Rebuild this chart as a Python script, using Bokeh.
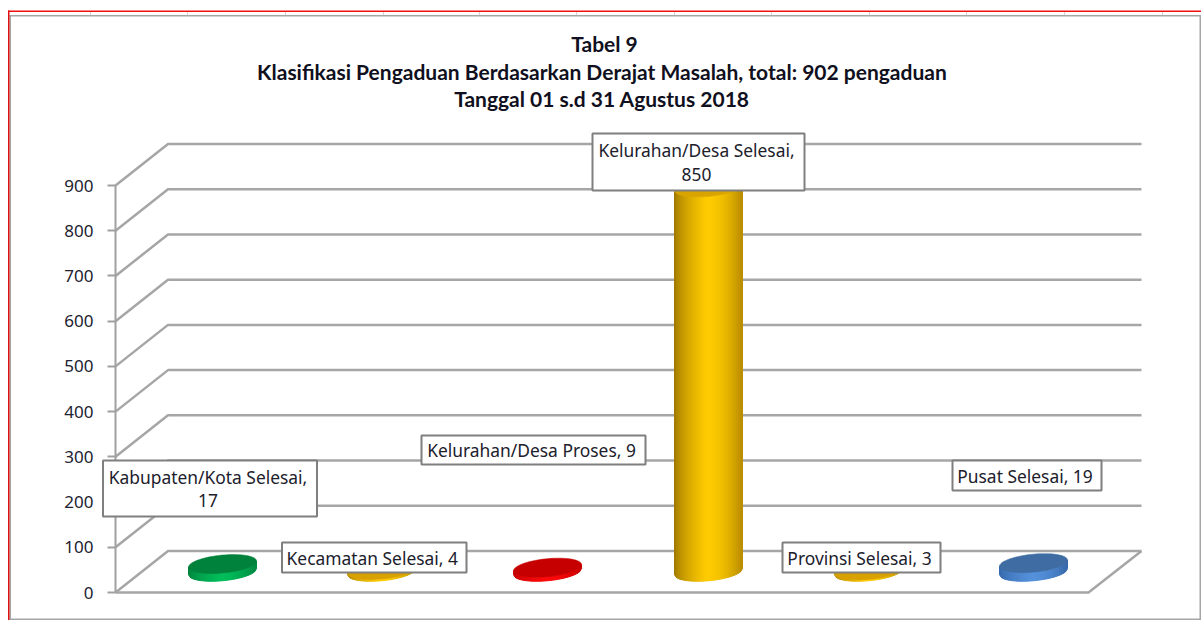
from bokeh.plotting import figure
from bokeh.models import Range1d, FixedTicker, BoxAnnotation, Label, LinearAxis
from bokeh.embed import file_html
from bokeh.resources import INLINE
import numpy as np

categories = ["Kabupaten/Kota Selesai", "Kecamatan Selesai", "Kelurahan/Desa Proses",
              "Kelurahan/Desa Selesai", "Provinsi Selesai", "Pusat Selesai"]
values = [17, 4, 9, 850, 3, 19]
ticks = [0, 100, 200, 300, 400, 500, 600, 700, 800, 900]
title_lines = ["Tabel 9",
               "Klasifikasi Pengaduan Berdasarkan Derajat Masalah, total: 902  pengaduan",
               "Tanggal  01 s.d 31 Agustus 2018"]

# Side shades (edge, centre, edge) and top colour for each column
side_colors = [((0, 125, 60), (0, 190, 90), (0, 135, 65)),
               ((170, 125, 0), (255, 204, 0), (190, 145, 0)),
               ((190, 0, 0), (255, 10, 10), (200, 0, 0)),
               ((150, 112, 0), (255, 204, 0), (185, 140, 0)),
               ((170, 125, 0), (255, 204, 0), (190, 145, 0)),
               ((50, 100, 165), (85, 145, 220), (55, 105, 170))]
top_colors = ["#00813c", "#d8a000", "#c60000", "#d9a300", "#d8a000", "#3f6da3"]

# Layout, in page pixels
W, H = 1201, 620
PX = (592 - 185) / 900
def val(py):
    return (592 - py) / PX

X0 = 115
DX, DY = 52.5, 41.5 / PX
centers = [222, 381, 547, 708, 868, 1033]

p = figure(width=W, height=H, output_backend="svg", toolbar_location=None,
           x_range=Range1d(0, W), y_range=Range1d(val(H), val(0)),
           min_border_left=0, min_border_right=0, min_border_top=0, min_border_bottom=0,
           x_axis_location=None, y_axis_location=None,
           outline_line_color=None, background_fill_color="white")
p.xgrid.visible = False
p.ygrid.visible = False

ax = LinearAxis(fixed_location=X0)
ax.ticker = FixedTicker(ticks=ticks)
ax.bounds = (0, 900)
ax.axis_line_color = "#a0a0a0"
ax.axis_line_width = 2
ax.major_tick_line_color = "#a0a0a0"
ax.major_tick_line_width = 2
ax.major_tick_in = 0
ax.major_tick_out = 8
ax.minor_tick_line_color = None
ax.major_label_text_font = "Noto Sans"
ax.major_label_text_font_size = "17px"
ax.major_label_text_color = "#222230"
ax.major_label_standoff = 14
p.add_layout(ax, "left")

GRID = "#a6a6a6"
# Back wall lines and the diagonals of the side wall
for t in ticks:
    p.line([X0, X0 + DX, 1141], [t, t + DY, t + DY], line_color=GRID, line_width=2.5)
# Floor
p.line([X0, 1088, 1141], [0, 0, DY], line_color=GRID, line_width=2.5)

# Columns
A, B, TILT = 34, 9, 0.09
for cx, v, side, top in zip(centers, values, side_colors, top_colors):
    base = DY / 2
    n = 34
    edges = np.linspace(-1, 1, n + 1)
    def lower(u):
        return (-B * np.sqrt(np.clip(1 - u * u, 0, 1)) + TILT * A * u) / PX
    xs, ys, cols = [], [], []
    for k in range(n):
        u0, u1 = edges[k], edges[k + 1]
        um = (u0 + u1) / 2
        if um < -0.05:
            f = ((um + 1) / 0.95) ** 0.6
            c0, c1 = side[0], side[1]
        else:
            f = ((um + 0.05) / 1.05) ** 1.8
            c0, c1 = side[1], side[2]
        col = tuple(int(a + (b - a) * f) for a, b in zip(c0, c1))
        cols.append("#%02x%02x%02x" % col)
        xs.append([cx + A * u0, cx + A * u1, cx + A * u1, cx + A * u0])
        ys.append([base + lower(u0), base + lower(u1), base + v + lower(u1), base + v + lower(u0)])
    p.patches(xs, ys, fill_color=cols, line_color=cols, line_width=1)
    t = np.linspace(0, 2 * np.pi, 80)
    ex = cx + A * np.cos(t)
    ey = base + v + (B * np.sin(t) + TILT * A * np.cos(t)) / PX
    p.patch(ex, ey, fill_color=top, line_color=top, line_width=0.5)

FONT = "Noto Sans"
def box(l, r, t, b, fill="white", line="#7f7f7f", lw=2):
    p.add_layout(BoxAnnotation(left=l, right=r, top=val(t), bottom=val(b), fill_color=fill,
                               fill_alpha=1, line_color=line, line_width=lw, line_alpha=1 if line else 0))

def text(x, py, s, font=FONT, size="17.4px", style="normal", color="#20202c"):
    p.add_layout(Label(x=x, y=val(py), text=s, text_align="center", text_baseline="middle",
                       text_font=font, text_font_size=size, text_font_style=style, text_color=color))

# Chart frame and the red sheet selection around it
for tx in [90, 187, 285, 383, 479, 576, 674, 771, 869, 966, 1064, 1162]:
    box(tx - 0.5, tx + 0.5, 11, 15, fill="#d4d4d4", line=None, lw=0)
box(9, 10.5, 14.5, 620, fill="#a6a6a6", line=None, lw=0)
box(9, 1201, 14.5, 16, fill="#a6a6a6", line=None, lw=0)
box(1199, 1200.5, 14.5, 620, fill="#a6a6a6", line=None, lw=0)
box(9, 1201, 618, 619.5, fill="#a6a6a6", line=None, lw=0)
box(7.5, 9, 10, 620, fill="#e01010", line=None, lw=0)
box(7.5, 1201, 10, 11.5, fill="#f01010", line=None, lw=0)

# Data labels: left, right, top, bottom of each box, and whether the value wraps
label_boxes = [(102.5, 316.5, 460, 516, True), (281.5, 466, 542, 572, False), (421, 645, 435, 464, False),
               (592, 804, 133, 190, True), (782, 940, 542, 572, False), (952, 1101, 460, 490, False)]
for name, v, (l, r, t, b, wrap) in zip(categories, values, label_boxes):
    box(l, r, t, b)
    mid = (l + r) / 2 - 2
    if wrap:
        text(mid, t + 16, f"{name},")
        text(mid, b - 16, str(v))
    else:
        text(mid, (t + b) / 2, f"{name}, {v}")

# Title
for py, line in zip([43, 71, 98], title_lines):
    text(604, py, line, font="Lato", size="21px", style="bold", color="#101020")

open("out.html", "w").write(file_html(p, INLINE))
